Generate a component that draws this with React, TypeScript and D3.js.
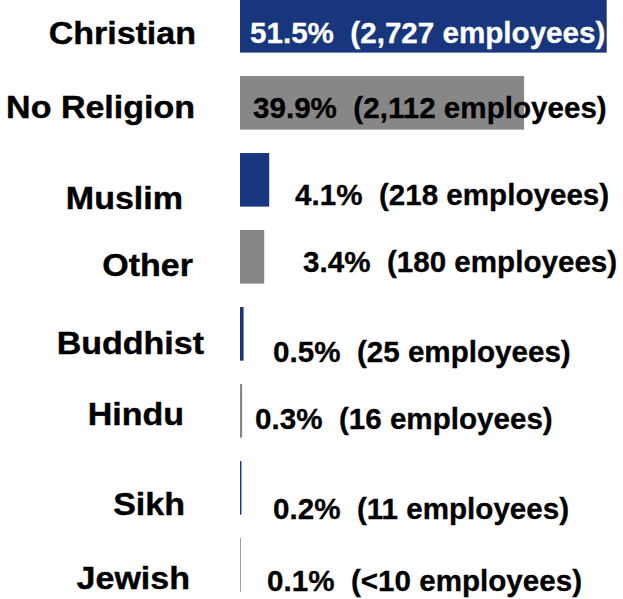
import React from "react";
import * as d3 from "d3";

const categories = ["Christian", "No Religion", "Muslim", "Other", "Buddhist", "Hindu", "Sikh", "Jewish"];
const percents = [51.5, 39.9, 4.1, 3.4, 0.5, 0.3, 0.2, 0.1];
const employeeLabels = ["2,727", "2,112", "218", "180", "25", "16", "11", "<10"];

// layout: label anchors (infographic style placement)
const catLabelPos: [number, number][] = [
  [196, 44], [195, 118], [183, 209], [193, 276], [204, 354], [184, 425], [185, 515], [190, 589],
];
const valLabelPos: [number, number][] = [
  [250, 43], [253, 118], [295, 205], [303, 272], [273, 362], [255, 429], [273, 519], [267, 591],
];

const NAVY = "#17367d";
const GRAY = "#878787";
const FONT = "'Liberation Sans', Arial, Helvetica, sans-serif";

export default function App() {
  const W = 623, H = 599;
  const x = d3.scaleLinear().domain([0, 51.5]).range([240, 606.7]);
  const y = d3.scaleBand<string>().domain(categories).range([-1, 591.7]).paddingInner(0.304).paddingOuter(0);

  return (
    <svg width={W} height={H} style={{ position: "absolute", left: 0, top: 0, background: "#fff" }}>
      {categories.map((c, i) => (
        <rect key={c} x={x(0)} y={y(c)} width={Math.max(0.8, x(percents[i]) - x(0))} height={y.bandwidth()}
          fill={i % 2 === 0 ? NAVY : GRAY} />
      ))}
      {categories.map((c, i) => (
        <g key={"c" + c} transform={`translate(${catLabelPos[i][0]},${catLabelPos[i][1]}) scale(1.08,1)`}>
          <text textAnchor="end" fontFamily={FONT} fontWeight="bold" fontSize={31.5} fill="#000"
            stroke="#000" strokeWidth={0.4}>{c}</text>
        </g>
      ))}
      {categories.map((c, i) => (
        <text key={"v" + c} x={valLabelPos[i][0]} y={valLabelPos[i][1]} fontFamily={FONT} fontWeight="bold"
          fontSize={29.6} fill={i === 0 ? "#fff" : "#000"} stroke={i === 0 ? "#fff" : "#000"} strokeWidth={0.3}
          style={{ whiteSpace: "pre" }}>
          {`${percents[i].toFixed(1)}%  (${employeeLabels[i]} employees)`}
        </text>
      ))}
    </svg>
  );
}
